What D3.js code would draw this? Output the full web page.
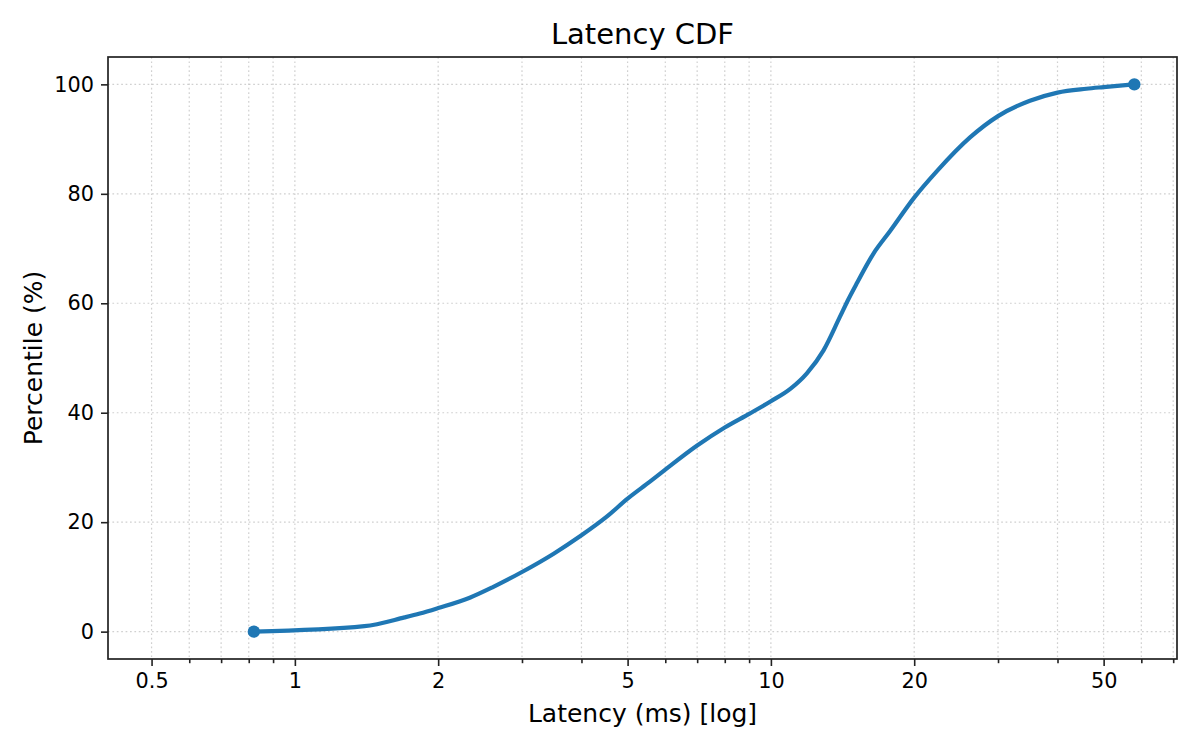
<!DOCTYPE html>
<html>
<head>
<meta charset="utf-8">
<script src="https://cdn.jsdelivr.net/npm/d3@7"></script>
<style>
  body { margin: 0; background: #fff; }
  text { font-family: "DejaVu Sans", sans-serif; fill: #000; }
</style>
</head>
<body>
<div id="chart"></div>
<script>
// latency values (ms) and matching percentile
const latencyMs = [0.82, 1.4, 1.7, 1.83, 2.0, 2.33, 2.6, 3.0, 3.49, 4.0, 4.52, 5.0, 5.57, 6.0, 7.0, 8.0, 9.0, 10.0,
  11.0, 11.9, 12.9, 13.96, 14.54, 15.14, 16.4, 17.8, 20.0, 22.3, 26.2, 30.0, 35.0, 40.0, 46.0, 50.0, 58.0];
const percentile = [0, 1.0, 2.6, 3.3, 4.3, 6.2, 8.1, 10.9, 14.2, 17.6, 21.0, 24.3, 27.4, 29.6, 34.0, 37.3, 39.8, 42.1,
  44.4, 47.2, 51.4, 57.5, 60.7, 63.6, 69.0, 73.2, 79.3, 84.1, 90.3, 94.2, 97.0, 98.5, 99.2, 99.5, 100];

const xMajor = [0.5, 1, 2, 5, 10, 20, 50];
const xMinor = [0.6, 0.7, 0.8, 0.9, 3, 4, 6, 7, 8, 9, 30, 40, 60, 70];
const yTicks = [0, 20, 40, 60, 80, 100];

const W = 1200, H = 750;
const margin = { top: 57, right: 23, bottom: 91, left: 108 };

const svg = d3.select("#chart")
  .append("svg")
  .attr("width", W)
  .attr("height", H);

const x = d3.scaleLog()
  .domain([0.405, 71.3])
  .range([margin.left, W - margin.right]);

const y = d3.scaleLinear()
  .domain([-5, 105])
  .range([H - margin.bottom, margin.top]);

const plotTop = margin.top, plotBottom = H - margin.bottom;

// grid
const grid = svg.append("g")
  .attr("stroke", "#b0b0b0")
  .attr("stroke-opacity", 0.6)
  .attr("stroke-width", 1.2)
  .attr("stroke-dasharray", "1.7,2.7");

grid.selectAll("line.gx")
  .data(xMajor.concat(xMinor))
  .enter().append("line")
  .attr("x1", d => x(d)).attr("x2", d => x(d))
  .attr("y1", plotTop).attr("y2", plotBottom);

grid.selectAll("line.gy")
  .data(yTicks)
  .enter().append("line")
  .attr("x1", margin.left).attr("x2", W - margin.right)
  .attr("y1", d => y(d)).attr("y2", d => y(d));

// axes
svg.append("g")
  .attr("transform", `translate(0,${plotBottom})`)
  .call(d3.axisBottom(x).tickValues(xMajor).tickFormat(d3.format("")).tickSize(7).tickPadding(7));

svg.append("g")
  .attr("transform", `translate(0,${plotBottom})`)
  .call(d3.axisBottom(x).tickValues(xMinor).tickFormat("").tickSize(4.2));

svg.append("g")
  .attr("transform", `translate(${margin.left},0)`)
  .call(d3.axisLeft(y).tickValues(yTicks).tickSize(7).tickPadding(7));

svg.selectAll(".tick text")
  .style("font-size", "20.8px")
  .style("font-family", "DejaVu Sans, sans-serif")
  .attr("fill", "#000");
svg.selectAll(".tick line").attr("stroke", "#222").attr("stroke-width", 1.6);
svg.selectAll(".domain").remove();

// frame
svg.append("rect")
  .attr("x", margin.left).attr("y", plotTop)
  .attr("width", W - margin.right - margin.left)
  .attr("height", plotBottom - plotTop)
  .attr("fill", "none")
  .attr("stroke", "#222")
  .attr("stroke-width", 1.7);

// curve
const pts = latencyMs.map((v, i) => [v, percentile[i]]);

svg.append("path")
  .datum(pts)
  .attr("fill", "none")
  .attr("stroke", "#1f77b4")
  .attr("stroke-width", 4.2)
  .attr("stroke-linejoin", "round")
  .attr("stroke-linecap", "round")
  .attr("d", d3.line().x(d => x(d[0])).y(d => y(d[1])).curve(d3.curveMonotoneX));

svg.selectAll("circle.end")
  .data([pts[0], pts[pts.length - 1]])
  .enter().append("circle")
  .attr("cx", d => x(d[0]))
  .attr("cy", d => y(d[1]))
  .attr("r", 6.2)
  .attr("fill", "#1f77b4");

// labels
svg.append("text")
  .attr("x", (margin.left + W - margin.right) / 2)
  .attr("y", 44)
  .attr("text-anchor", "middle")
  .style("font-size", "29px")
  .text("Latency CDF");

svg.append("text")
  .attr("x", (margin.left + W - margin.right) / 2)
  .attr("y", 722)
  .attr("text-anchor", "middle")
  .style("font-size", "25px")
  .text("Latency (ms) [log]");

svg.append("text")
  .attr("transform", `translate(41.5,${(plotTop + plotBottom) / 2}) rotate(-90)`)
  .attr("text-anchor", "middle")
  .style("font-size", "25px")
  .text("Percentile (%)");
</script>
</body>
</html>
